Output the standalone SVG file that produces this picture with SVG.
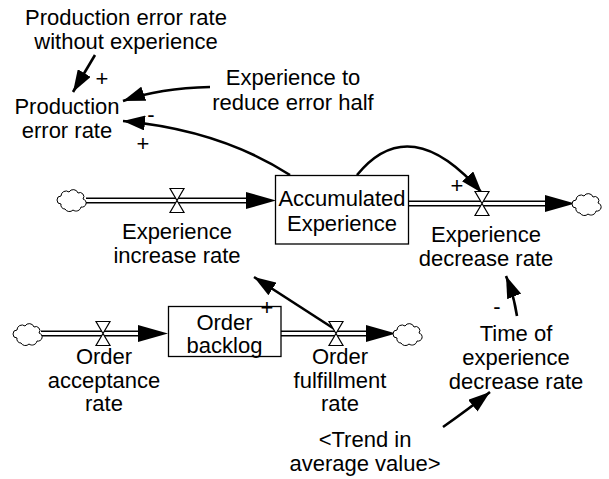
<svg xmlns="http://www.w3.org/2000/svg" width="609" height="479" viewBox="0 0 609 479">
  <defs>
    <style>
      text { font-family: "Liberation Sans", Arial, sans-serif; font-size: 22px; fill: #000; text-anchor: middle; }
      .stock { fill: #fff; stroke: #000; stroke-width: 1.3; }
      .pipe-out { stroke: #000; stroke-width: 6; fill: none; }
      .pipe-in { stroke: #fff; stroke-width: 3; fill: none; }
      .valve { fill: #fff; stroke: #000; stroke-width: 1.2; }
      .cloud { fill: #fff; stroke: #000; stroke-width: 1; }
      .link { fill: none; stroke: #000; stroke-width: 2.6; marker-end: url(#head); }
    </style>
    <marker id="head" markerUnits="userSpaceOnUse" markerWidth="23" markerHeight="15" refX="22" refY="7.5" orient="auto">
      <path d="M0,0 L22,7.5 L0,15 Z" fill="#000"/>
    </marker>
    <symbol id="cloud" overflow="visible">
      <path class="cloud" d="M-12,4 a4,4 0 0 1 0,-8 a5,5 0 0 1 8,-4 a5,5 0 0 1 9,1 a4,4 0 0 1 5,6 a4,4 0 0 1 -2,8 a5,5 0 0 1 -8,3 a5,5 0 0 1 -8,-1 a4,4 0 0 1 -4,-5 Z"/>
    </symbol>
  </defs>

  <!-- material flows (pipes, arrowheads, clouds) -->
  <g id="flows">
    <path class="pipe-out" d="M86,200.5 H248"/>
    <path class="pipe-in" d="M86,200.5 H248"/>
    <polygon points="276,200.5 246,192 246,209" fill="#000"/>

    <path class="pipe-out" d="M409,203.5 H547"/>
    <path class="pipe-in" d="M409,203.5 H547"/>
    <polygon points="575,203.5 545,195 545,212" fill="#000"/>

    <path class="pipe-out" d="M41,333.5 H140"/>
    <path class="pipe-in" d="M41,333.5 H140"/>
    <polygon points="168,333.5 138,325 138,342" fill="#000"/>

    <path class="pipe-out" d="M281,333.5 H368"/>
    <path class="pipe-in" d="M281,333.5 H368"/>
    <polygon points="396,333.5 366,325 366,342" fill="#000"/>

    <use href="#cloud" x="73" y="200"/>
    <use href="#cloud" x="588" y="204"/>
    <use href="#cloud" x="29" y="334"/>
    <use href="#cloud" x="409" y="334"/>
  </g>

  <!-- information links -->
  <g id="connectors">
    <path class="link" d="M95,55 L73,92"/>
    <path class="link" d="M210,87 Q160,88 123,101"/>
    <path class="link" d="M290,175 Q220,130 123,121"/>
    <path class="link" d="M357,175 Q410,110 482,193"/>
    <path class="link" d="M336,330 L254,277"/>
    <path class="link" d="M517,316 Q514,296 506,276"/>
    <path class="link" d="M443,427 Q470,408 490,392"/>
  </g>

  <g id="production-error-rate-without-experience">
    <text x="126" y="25">Production error rate</text>
    <text x="126" y="49">without experience</text>
  </g>

  <g id="production-error-rate">
    <text x="67" y="114">Production</text>
    <text x="67" y="138">error rate</text>
  </g>

  <g id="experience-to-reduce-error-half">
    <text x="293" y="85">Experience to</text>
    <text x="293" y="110">reduce error half</text>
  </g>

  <g id="accumulated-experience">
    <rect class="stock" x="275.5" y="175.5" width="133" height="68.5"/>
    <text x="342" y="206">Accumulated</text>
    <text x="342" y="231">Experience</text>
  </g>

  <g id="experience-increase-rate">
    <polygon class="valve" points="170,188.5 184,188.5 177,200.5 170,212.5 184,212.5 177,200.5"/>
    <text x="177" y="239">Experience</text>
    <text x="177" y="263">increase rate</text>
  </g>

  <g id="experience-decrease-rate">
    <polygon class="valve" points="475,191.5 489,191.5 482,203.5 475,215.5 489,215.5 482,203.5"/>
    <text x="486" y="242">Experience</text>
    <text x="486" y="266">decrease rate</text>
  </g>

  <g id="order-backlog">
    <rect class="stock" x="168.5" y="306.5" width="112.5" height="50"/>
    <text x="224.5" y="330">Order</text>
    <text x="224.5" y="353">backlog</text>
  </g>

  <g id="order-acceptance-rate">
    <polygon class="valve" points="96,321.5 110,321.5 103,333.5 96,345.5 110,345.5 103,333.5"/>
    <text x="104" y="364">Order</text>
    <text x="104" y="388">acceptance</text>
    <text x="104" y="411">rate</text>
  </g>

  <g id="order-fulfillment-rate">
    <polygon class="valve" points="329,321.5 343,321.5 336,333.5 329,345.5 343,345.5 336,333.5"/>
    <text x="340" y="364">Order</text>
    <text x="340" y="388">fulfillment</text>
    <text x="340" y="411">rate</text>
  </g>

  <g id="time-of-experience-decrease-rate">
    <text x="516" y="341">Time of</text>
    <text x="516" y="365">experience</text>
    <text x="516" y="389">decrease rate</text>
  </g>

  <g id="trend-in-average-value">
    <text x="365" y="447">&lt;Trend in</text>
    <text x="365" y="471">average value&gt;</text>
  </g>

  <!-- link polarity signs, drawn last so they sit over node borders -->
  <g id="polarities">
    <text x="102" y="86">+</text>
    <text x="151" y="122">-</text>
    <text x="143" y="151">+</text>
    <text x="457" y="193">+</text>
    <text x="267" y="315">+</text>
    <text x="497" y="314">-</text>
  </g>
</svg>
